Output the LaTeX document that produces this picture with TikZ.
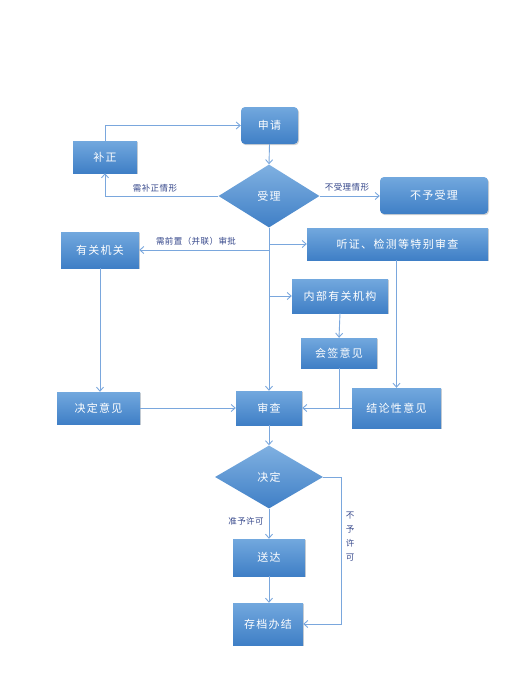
\documentclass[tikz,border=0pt]{standalone}
\usepackage{fontspec}
\setmainfont{Noto Sans CJK SC}
\usetikzlibrary{shapes.geometric, shadows, arrows.meta}

\definecolor{boxtop}{HTML}{72A8DE}
\definecolor{boxbot}{HTML}{3F7FC6}
\definecolor{flowline}{HTML}{7AA7DD}
\definecolor{labelblue}{HTML}{34468A}

\tikzset{
  box/.style={rectangle, top color=boxtop, bottom color=boxbot, text=white,
    font=\fontsize{11}{13}\selectfont\addfontfeatures{LetterSpace=12}, inner sep=0pt,
    drop shadow={opacity=0.35, shadow xshift=1pt, shadow yshift=-1.2pt}},
  roundbox/.style={box, rounded corners=4pt},
  choice/.style={diamond, top color=boxtop!90!white, bottom color=boxbot, text=white,
    font=\fontsize{11}{13}\selectfont\addfontfeatures{LetterSpace=12}, inner sep=0pt},
  flow/.style={draw=flowline, line width=0.9pt, -{Straight Barb[length=4pt, width=7pt]}},
  plain/.style={draw=flowline, line width=0.9pt},
  tag/.style={text=labelblue, font=\fontsize{8.5}{10}\selectfont\addfontfeatures{LetterSpace=5}, inner sep=1pt}
}

\begin{document}
\begin{tikzpicture}[x=1pt, y=-1pt]

    % 1. Page frame
    \useasboundingbox (0,0) rectangle (529,688);

    % 2. Boxes of the first stage
    \node[roundbox, minimum width=57pt, minimum height=37pt] (shenqing) at (269.5,125.5) {申请};
    \node[box, minimum width=64pt, minimum height=32pt] (buzheng) at (105,157) {补正};
    \node[choice, minimum width=101pt, minimum height=63pt] (shouli) at (269,196) {受理};
    \node[roundbox, minimum width=108pt, minimum height=37pt] (buyu) at (434,195.5) {不予受理};

    % 3. Boxes of the review stage
    \node[box, minimum width=78pt, minimum height=36pt] (youguan) at (100,250) {有关机关};
    \node[box, minimum width=181pt, minimum height=32pt] (tingzheng) at (397.5,244) {听证、检测等特别审查};
    \node[box, minimum width=96pt, minimum height=34pt] (neibu) at (340,296) {内部有关机构};
    \node[box, minimum width=76pt, minimum height=30pt] (huiqian) at (339,353) {会签意见};
    \node[box, minimum width=83pt, minimum height=32pt] (jueding) at (98.5,408) {决定意见};
    \node[box, minimum width=66pt, minimum height=34pt] (shencha) at (269,408) {审查};
    \node[box, minimum width=89pt, minimum height=40pt] (jielun) at (396.5,408) {结论性意见};

    % 4. Boxes of the decision stage
    \node[choice, minimum width=108pt, minimum height=63pt] (decide) at (269,477) {决定};
    \node[box, minimum width=72pt, minimum height=37pt] (songda) at (269,557.5) {送达};
    \node[box, minimum width=70pt, minimum height=42pt] (cundang) at (268,624) {存档办结};

    % 5. Connectors of the first stage
    \draw[flow] (buzheng.north) |- (shenqing.west);
    \draw[flow] (shenqing.south) -- (shouli.north);
    \draw[flow] (shouli.west) -| (buzheng.south);
    \draw[flow] (shouli.east) -- (shouli.east -| buyu.west);
    \node[tag] (tagbz) at (155,188) {需补正情形};
    \node[tag] (tagbsl) at (347,187) {不受理情形};

    % 6. Main line and its branches
    \draw[flow] (shouli.south) -- (shencha.north);
    \draw[flow] (shouli.south |- youguan.east) -- (youguan.east);
    \draw[flow] (shouli.south |- tingzheng.west) -- (tingzheng.west);
    \draw[flow] (shouli.south |- neibu.west) -- (neibu.west);
    \node[tag] (tagqz) at (196,241) {需前置（并联）审批};

    % 7. Opinions back to the review
    \draw[flow] (youguan.south) -- (youguan.south |- jueding.north);
    \draw[flow] (jueding.east) -- (shencha.west);
    \draw[flow] (neibu.south) -- (huiqian.north);
    \draw[flow] (tingzheng.south -| jielun.north) -- (jielun.north);
    \draw[flow] (jielun.west) -- (shencha.east);
    \draw[plain] (huiqian.south) -- (huiqian.south |- shencha.east);

    % 8. Decision and archive
    \draw[flow] (shencha.south) -- (decide.north);
    \draw[flow] (decide.south) -- (songda.north);
    \draw[flow] (songda.south) -- (songda.south |- cundang.north);
    \coordinate (turn) at (341,477);
    \draw[flow] (decide.east) -- (turn) |- (cundang.east);
    \node[tag] (tagzy) at (246,521) {准予许可};
    \node[tag, align=center, font=\fontsize{8.5}{14}\selectfont] (tagby) at (350,537) {不\\予\\许\\可};

\end{tikzpicture}
\end{document}
